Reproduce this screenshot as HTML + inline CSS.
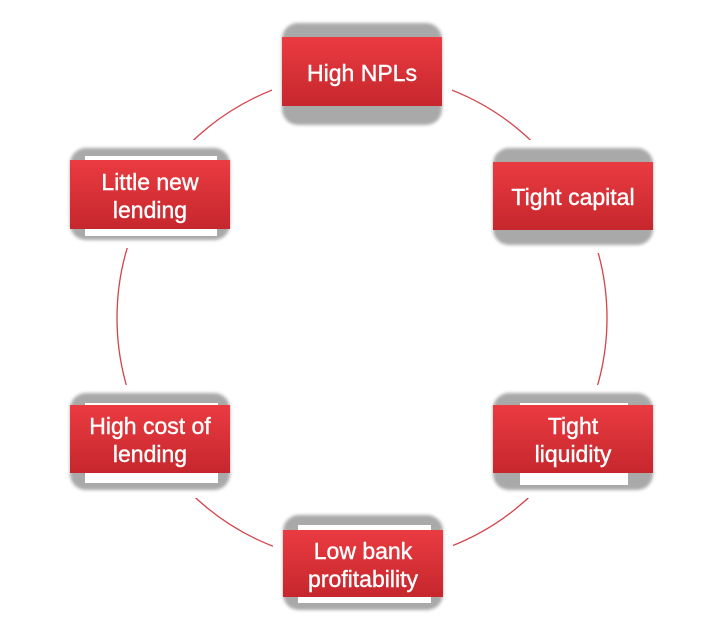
<!DOCTYPE html>
<html><head><style>
body{margin:0;width:704px;height:634px;background:#fff;position:relative;overflow:hidden;font-family:"Liberation Sans",sans-serif}
.n{position:absolute;width:160px}
.bg{position:absolute;left:-10px;right:-10px;background:#fff;border-radius:20px}
.sh{position:absolute;left:0;right:0;background:#a9a9a9;border-radius:16px;filter:blur(1.5px)}
.ws{position:absolute;background:#fff}
.r{position:absolute;left:0;right:0;background:linear-gradient(#ea3b41,#c5272d);color:#fff;font-size:23px;line-height:28px;text-align:center;display:flex;align-items:center;justify-content:center;-webkit-text-stroke:0.4px #fff;padding-top:2px;box-sizing:border-box}
svg{position:absolute;left:0;top:0}
</style></head><body>
<svg width="704" height="634"><circle cx="362" cy="318" r="245" fill="none" stroke="#d2434a" stroke-width="1.3"/></svg>

<div class="n" style="left:282px;top:23px;height:102px"><div class="bg" style="top:-8px;bottom:-8px"></div><div class="sh" style="top:0;bottom:0"></div><div class="r" style="top:14px;height:69px">High NPLs</div></div>

<div class="n" style="left:70px;top:148px;height:92px"><div class="bg" style="top:-8px;bottom:-8px"></div><div class="sh" style="top:0;bottom:0"></div><div class="ws" style="left:15px;right:13px;top:8px;bottom:4px"></div><div class="r" style="top:12px;height:69px">Little new<br>lending</div></div>

<div class="n" style="left:493px;top:148px;height:97px"><div class="bg" style="top:-8px;bottom:-8px"></div><div class="sh" style="top:0;bottom:0"></div><div class="r" style="top:14px;height:68px">Tight capital</div></div>

<div class="n" style="left:493px;top:393px;height:97px"><div class="bg" style="top:-8px;bottom:-8px"></div><div class="sh" style="top:0;bottom:0"></div><div class="ws" style="left:27px;right:25px;top:10px;bottom:5px"></div><div class="r" style="top:12px;height:68px">Tight<br>liquidity</div></div>

<div class="n" style="left:70px;top:393px;height:97px"><div class="bg" style="top:-8px;bottom:-8px"></div><div class="sh" style="top:0;bottom:0"></div><div class="ws" style="left:15px;right:12px;top:10px;bottom:7px"></div><div class="r" style="top:12px;height:68px">High cost of<br>lending</div></div>

<div class="n" style="left:283px;top:515px;height:95px"><div class="bg" style="top:-8px;bottom:-8px"></div><div class="sh" style="top:0;bottom:0"></div><div class="ws" style="left:15px;right:12px;top:10px;bottom:7px"></div><div class="r" style="top:15px;height:67px">Low bank<br>profitability</div></div>
</body></html>
